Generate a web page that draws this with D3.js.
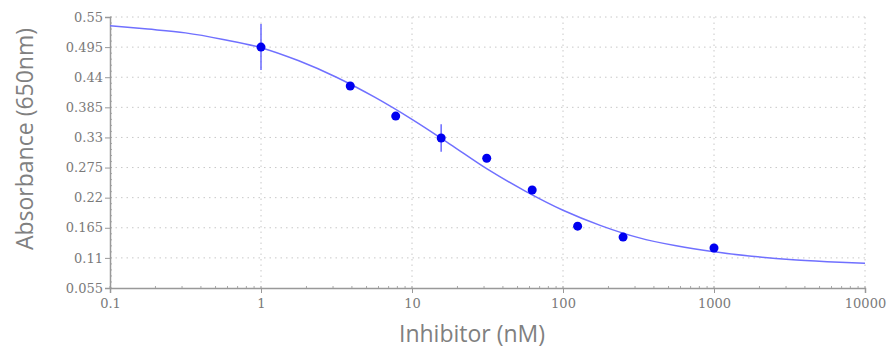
<!DOCTYPE html>
<html>
<head>
<meta charset="utf-8">
<script src="https://cdn.jsdelivr.net/npm/d3@7"></script>
<style>
  body { margin: 0; background: #fff; }
  .tick text { font-family: "DejaVu Serif", "Liberation Serif", serif; fill: #7a7a7a; }
</style>
</head>
<body>
<div id="chart"></div>
<script>
// measured points (mean +/- error)
var conc = [1, 3.9, 7.8, 15.6, 31.25, 62.5, 125, 250, 1000];
var absorb = [0.495, 0.424, 0.369, 0.329, 0.292, 0.234, 0.168, 0.148, 0.128];
var errs = [0.042, 0, 0, 0.025, 0, 0, 0, 0, 0];

// fitted curve
var fitX = [0.1, 0.178, 0.316, 0.562, 1, 1.78, 3.16, 5.62, 10, 17.8, 31.6, 56.2, 100, 178, 316, 562, 1000, 1778, 3162, 5623, 10000];
var fitY = [0.534, 0.528, 0.521, 0.509, 0.494, 0.470, 0.440, 0.404, 0.363, 0.318, 0.272, 0.232, 0.197, 0.169, 0.147, 0.132, 0.121, 0.113, 0.107, 0.103, 0.100];

var xTicks = [0.1, 1, 10, 100, 1000, 10000];
var yTicks = [0.055, 0.11, 0.165, 0.22, 0.275, 0.33, 0.385, 0.44, 0.495, 0.55];

var width = 887,
  height = 350,
  margin = {top: 17, right: 22, bottom: 62, left: 110};

var svg = d3.select('#chart')
  .append('svg')
  .attr('width', width)
  .attr('height', height);

var x = d3.scaleLog()
  .domain([0.1, 10000])
  .range([margin.left, width - margin.right]);

var y = d3.scaleLinear()
  .domain([0.055, 0.55])
  .range([height - margin.bottom, margin.top]);

// grid
svg.append('g')
  .selectAll('line')
  .data(yTicks.slice(1))
  .enter().append('line')
  .attr('x1', x(0.1)).attr('x2', x(10000))
  .attr('y1', function(d){ return y(d); })
  .attr('y2', function(d){ return y(d); })
  .attr('stroke', '#c8c8c8')
  .attr('stroke-dasharray', '1.5,4');

svg.append('g')
  .selectAll('line')
  .data(xTicks.slice(1))
  .enter().append('line')
  .attr('y1', y(0.055)).attr('y2', y(0.55))
  .attr('x1', function(d){ return x(d); })
  .attr('x2', function(d){ return x(d); })
  .attr('stroke', '#c8c8c8')
  .attr('stroke-dasharray', '1.5,4');

// minor ticks
var yMinor = d3.range(0.055, 0.5501, 0.011);
svg.append('g')
  .selectAll('line')
  .data(yMinor)
  .enter().append('line')
  .attr('x1', margin.left).attr('x2', margin.left + 2)
  .attr('y1', function(d){ return y(d); })
  .attr('y2', function(d){ return y(d); })
  .attr('stroke', '#aaa');

var xMinor = x.ticks();
svg.append('g')
  .selectAll('line')
  .data(xMinor)
  .enter().append('line')
  .attr('y1', y(0.055)).attr('y2', y(0.055) - 2)
  .attr('x1', function(d){ return x(d); })
  .attr('x2', function(d){ return x(d); })
  .attr('stroke', '#aaa');

// axes
var xAxis = svg.append('g')
  .attr('transform', 'translate(0,' + y(0.055) + ')')
  .call(d3.axisBottom(x).tickValues(xTicks).tickSize(5).tickFormat(function(d){ return String(d); }));

var yAxis = svg.append('g')
  .attr('transform', 'translate(' + margin.left + ',0)')
  .call(d3.axisLeft(y).tickValues(yTicks).tickSize(5).tickFormat(function(d){ return String(d); }));

[xAxis, yAxis].forEach(function(g){
  g.select('.domain').attr('stroke', '#999').attr('stroke-width', 1.5);
  g.selectAll('.tick line').attr('stroke', '#999');
  g.selectAll('.tick text').attr('font-size', 13);
});
xAxis.selectAll('.tick text').attr('dy', '0.9em');
yAxis.selectAll('.tick text').attr('dx', '1px');

// fit curve
var line = d3.line()
  .x(function(d, i){ return x(fitX[i]); })
  .y(function(d){ return y(d); })
  .curve(d3.curveMonotoneX);

svg.append('path')
  .attr('d', line(fitY))
  .attr('fill', 'none')
  .attr('stroke', '#7070ff')
  .attr('stroke-width', 1.5);

// error bars
svg.append('g')
  .selectAll('line')
  .data(conc.filter(function(d, i){ return errs[i] > 0; }))
  .enter().append('line')
  .attr('x1', function(d){ return x(d); })
  .attr('x2', function(d){ return x(d); })
  .attr('y1', function(d){ var i = conc.indexOf(d); return y(absorb[i] + errs[i]); })
  .attr('y2', function(d){ var i = conc.indexOf(d); return y(absorb[i] - errs[i]); })
  .attr('stroke', '#6a6aff')
  .attr('stroke-width', 1.5);

// points
svg.append('g')
  .selectAll('circle')
  .data(conc)
  .enter().append('circle')
  .attr('cx', function(d){ return x(d); })
  .attr('cy', function(d, i){ return y(absorb[i]); })
  .attr('r', 4.5)
  .attr('fill', '#0000f0');

// titles
svg.append('text')
  .attr('x', 472)
  .attr('y', 342)
  .attr('text-anchor', 'middle')
  .attr('font-family', 'Open Sans, sans-serif')
  .attr('font-size', 23)
  .attr('fill', '#808080')
  .text('Inhibitor (nM)');

svg.append('text')
  .attr('transform', 'translate(33,139) rotate(-90)')
  .attr('text-anchor', 'middle')
  .attr('font-family', 'Open Sans, sans-serif')
  .attr('font-size', 23)
  .attr('fill', '#808080')
  .text('Absorbance (650nm)');
</script>
</body>
</html>
